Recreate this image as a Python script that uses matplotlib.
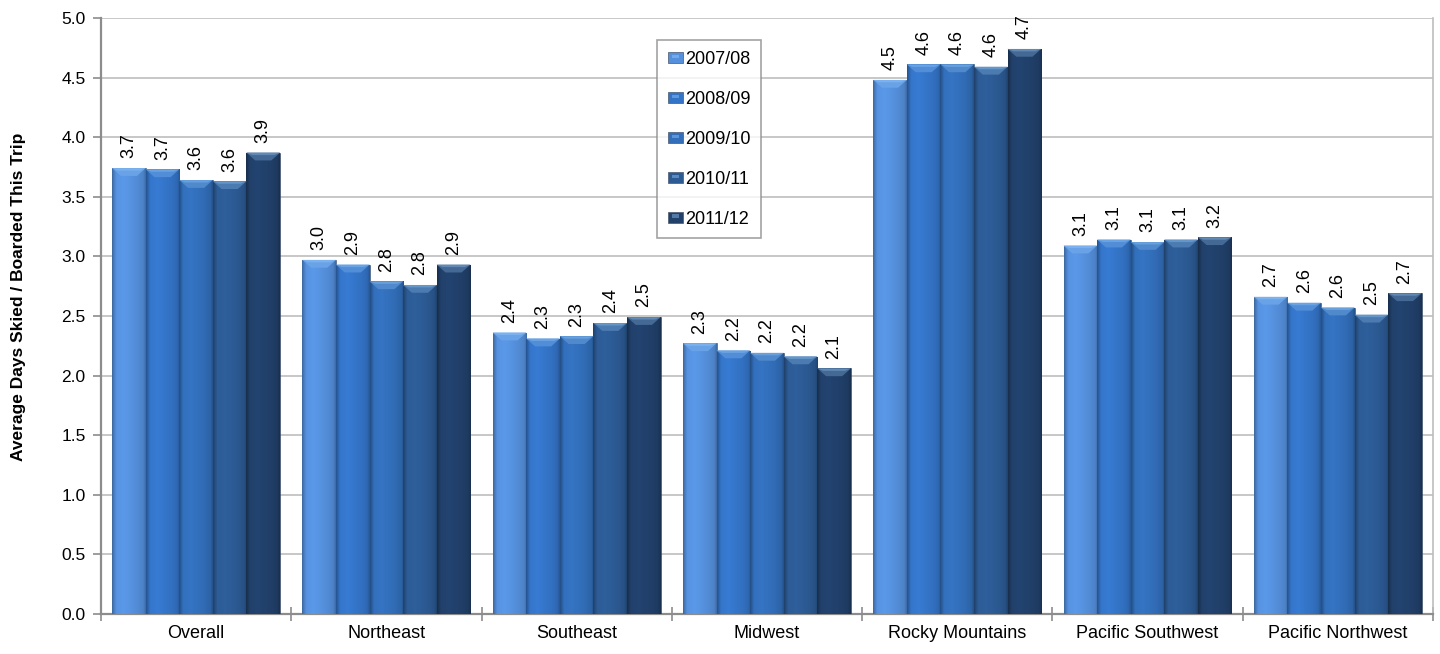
import numpy as np
import matplotlib
matplotlib.use("Agg")
import matplotlib.pyplot as plt
from matplotlib.patches import Polygon, Patch, Rectangle
from matplotlib.colors import to_rgb
from matplotlib.legend_handler import HandlerPatch

regions = ["Overall", "Northeast", "Southeast", "Midwest",
           "Rocky Mountains", "Pacific Southwest", "Pacific Northwest"]
seasons = ["2007/08", "2008/09", "2009/10", "2010/11", "2011/12"]

s2007_08 = [3.74, 2.97, 2.36, 2.27, 4.48, 3.09, 2.66]
s2008_09 = [3.73, 2.93, 2.31, 2.21, 4.61, 3.14, 2.61]
s2009_10 = [3.64, 2.79, 2.33, 2.19, 4.61, 3.12, 2.57]
s2010_11 = [3.63, 2.76, 2.44, 2.16, 4.59, 3.14, 2.51]
s2011_12 = [3.87, 2.93, 2.49, 2.06, 4.74, 3.16, 2.69]
series = [s2007_08, s2008_09, s2009_10, s2010_11, s2011_12]

colors = ["#5590DC", "#3474C7", "#326EB9", "#2C5A93", "#21406A"]

plt.rcParams["font.family"] = ["Liberation Sans", "DejaVu Sans"]

fig = plt.figure(figsize=(14.4, 6.54), dpi=100)
ax = fig.add_axes([0.0701, 0.0612, 0.9250, 0.9113])

n_groups = len(regions)
n_series = len(series)
bar_w = 0.1765
x = np.arange(n_groups)


def lighten(c, amt, toward=(1.0, 1.0, 1.0)):
    r = np.array(to_rgb(c))
    t = np.array(toward)
    return tuple(r + (t - r) * amt)


SKY = (0.62, 0.82, 1.0)


def shade_image(c):
    # horizontal shading: darker edges, brighter left-centre
    xs = np.linspace(0, 1, 64)
    f = np.interp(xs, [0, 0.06, 0.12, 0.35, 0.75, 0.93, 1.0],
                  [0.72, 0.88, 1.02, 1.06, 0.97, 0.90, 0.74])
    base = np.array(to_rgb(c))
    rgb = np.clip(base[None, :] * f[:, None], 0, 1)
    img = np.ones((1, 64, 4))
    img[0, :, :3] = rgb
    return img


for i, (vals, col) in enumerate(zip(series, colors)):
    pos = x - (n_series * bar_w) / 2 + bar_w * (i + 0.5)
    bars = ax.bar(pos, vals, width=bar_w, color=col, edgecolor=lighten("#1a2c48", 0.1),
                  linewidth=0.4, zorder=3)
    for b, v in zip(bars, vals):
        x0 = b.get_x()
        x1 = x0 + b.get_width()
        im = ax.imshow(shade_image(col), extent=(x0, x1, 0, v), aspect="auto",
                       interpolation="bilinear", zorder=3.1)
        im.set_clip_path(b)
        # bevelled top cap
        inset = 0.26 * bar_w
        d = 0.065
        cap = Polygon([(x0, v), (x1, v), (x1 - inset, v - d), (x0 + inset, v - d)],
                      closed=True, facecolor=lighten(col, 0.28, SKY), edgecolor="none",
                      zorder=3.2)
        ax.add_patch(cap)
        band = Polygon([(x0, v), (x1, v), (x1 - 0.03, v - 0.02), (x0 + 0.03, v - 0.02)],
                       closed=True, facecolor=lighten(col, 0.5, SKY), edgecolor="none",
                       zorder=3.3)
        ax.add_patch(band)
        ax.annotate(f"{v:.1f}", (b.get_x() + b.get_width() / 2, v),
                    xytext=(0, 7), textcoords="offset points", rotation=90,
                    ha="center", va="bottom", fontsize=13, zorder=5)

ax.set_xlim(-0.5, n_groups - 0.5)
ax.set_ylim(0, 5.0)
yt = np.arange(0, 5.01, 0.5)
ax.set_yticks(yt)
ax.set_yticklabels([f"{t:.1f}" for t in yt], fontsize=12.5)
ax.yaxis.grid(True, color="#BDBDBD", linewidth=1.2, zorder=0)
ax.set_axisbelow(True)

ax.set_xticks(x)
ax.set_xticklabels(regions, fontsize=13)
ax.tick_params(axis="x", which="major", length=0, pad=8)
ax.set_xticks(np.arange(-0.5, n_groups, 1.0), minor=True)
ax.tick_params(axis="x", which="minor", length=10, direction="inout", color="#8C8C8C", width=1.2)
ax.tick_params(axis="y", which="major", length=6, direction="out", color="#8C8C8C", width=1.2, pad=5)

for side in ["left", "bottom"]:
    ax.spines[side].set_color("#8C8C8C")
    ax.spines[side].set_linewidth(1.6)
ax.spines["top"].set_visible(False)
ax.spines["right"].set_color("#BDBDBD")
ax.spines["right"].set_linewidth(1.2)

ax.set_ylabel("Average Days Skied / Boarded This Trip", fontsize=12.5, fontweight="bold",
              family=["Liberation Sans Narrow", "Liberation Sans", "DejaVu Sans"])
ax.yaxis.set_label_coords(-0.056, 0.532)


class GradHandler(HandlerPatch):
    def create_artists(self, legend, orig_handle, xdescent, ydescent, width, height,
                       fontsize, trans):
        col = orig_handle.get_facecolor()
        p = Rectangle((-xdescent, -ydescent), width, height,
                      facecolor=col, edgecolor=lighten("#1a2c48", 0.2),
                      linewidth=0.5, transform=trans)
        hl = Rectangle((-xdescent + width * 0.25, -ydescent + height * 0.45),
                       width * 0.5, height * 0.3,
                       facecolor=lighten(col, 0.4, SKY), edgecolor="none",
                       transform=trans)
        return [p, hl]


handles = [Patch(facecolor=c, label=s) for c, s in zip(colors, seasons)]
leg = ax.legend(handles=handles, loc="upper left", bbox_to_anchor=(0.4174, 0.963),
                fontsize=13, frameon=True, fancybox=False, edgecolor="#8C8C8C",
                handlelength=0.85, handleheight=0.55, handletextpad=0.1,
                labelspacing=1.27, borderpad=0.6, borderaxespad=0,
                handler_map={Patch: GradHandler()})
leg.get_frame().set_linewidth(1.2)
leg.set_zorder(6)

fig.savefig("out.png", dpi=100)
